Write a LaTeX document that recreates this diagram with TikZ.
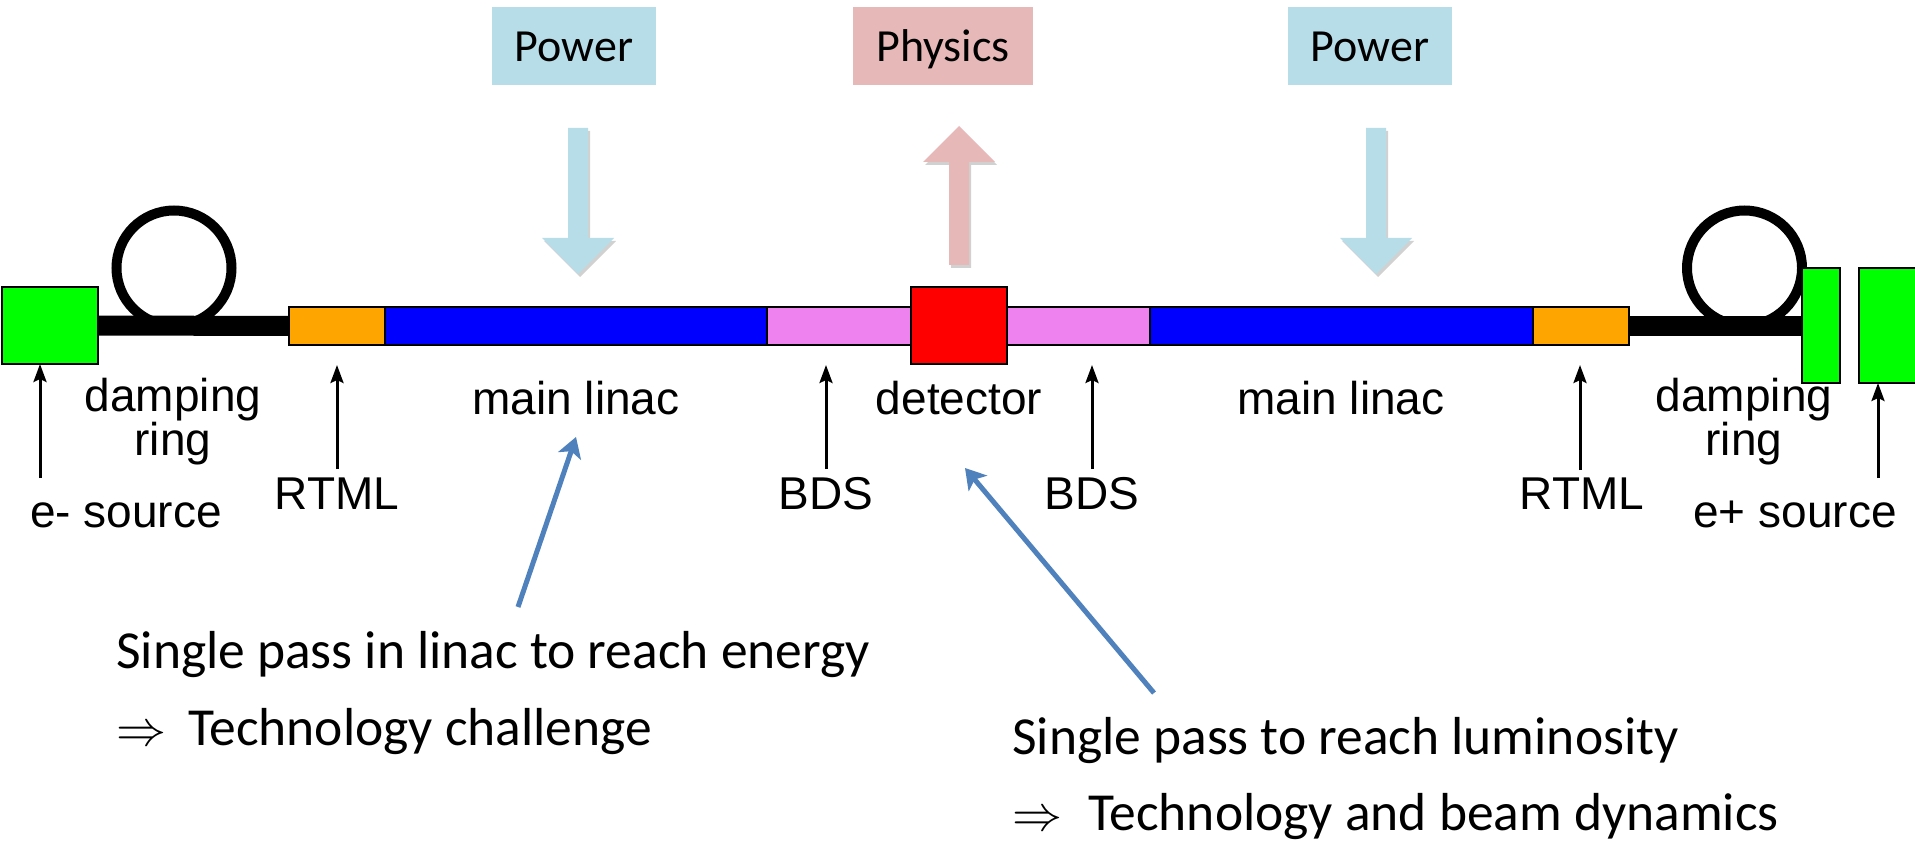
\documentclass[tikz,border=0pt]{standalone}
\usepackage{fontspec}
\setmainfont{Liberation Sans}
\newfontfamily\calib{Carlito}
\usetikzlibrary{arrows.meta,calc}
\definecolor{cgreen}{HTML}{00FF00}
\definecolor{corange}{HTML}{FFA500}
\definecolor{cblue}{HTML}{0000FF}
\definecolor{cpink}{HTML}{EE82EE}
\definecolor{cred}{HTML}{FF0000}
\definecolor{cpower}{HTML}{B7DDE8}
\definecolor{cphys}{HTML}{E6B9B8}
\definecolor{calblue}{HTML}{4F81BD}
\newcommand{\bigimplies}{\resizebox{50pt}{!}{$\Rightarrow$}}
\begin{document}
\begin{tikzpicture}[x=1pt,y=-1pt,
  seg/.style={draw=black,line width=1.5pt,inner sep=0pt,outer sep=0pt,minimum height=38pt},
  srcbox/.style={draw=black,line width=1.5pt,inner sep=0pt,outer sep=0pt,fill=cgreen},
  beamline/.style={line width=20pt},
  ringstyle/.style={circle,draw=black,line width=10pt,minimum size=115pt,inner sep=0pt},
  lbl/.style={font=\fontsize{46}{38}\selectfont,inner sep=0pt,anchor=base},
  lbltwo/.style={font=\fontsize{46}{38}\selectfont,inner sep=0pt,align=center},
  ptr/.style={line width=3pt,-{Stealth[length=18pt,width=13pt,inset=3pt]}},
  callout/.style={draw=calblue,line width=5pt,-{Stealth[length=20pt,width=24pt,inset=5pt]}},
  infobox/.style={inner sep=0pt,minimum height=78pt,text height=31pt,text depth=0pt,font=\calib\fontsize{46}{54}\selectfont},
  note/.style={anchor=base west,inner sep=0pt,font=\calib\fontsize{53.5}{62}\selectfont},
  shadowfill/.style={fill=black,opacity=0.18}
]
\useasboundingbox (0,0) rectangle (1915,842);
\fill[white] (0,0) rectangle (1915,842);

% top boxes
\node[infobox,fill=cpower,minimum width=164pt] (pwrL) at (574,46) {Power};
\node[infobox,fill=cphys,minimum width=180pt] (phys) at (943,46) {Physics};
\node[infobox,fill=cpower,minimum width=164pt] (pwrR) at (1370,46) {Power};

% block arrows
\coordinate (paL) at (578,128);
\coordinate (paR) at (1376,128);
\coordinate (phA) at (959,126);
\foreach \c/\col in {paL/cpower,paR/cpower}{
  \fill[shadowfill] ($(\c)+(2,3)$) ++(-10,0) -- ++(20,0) -- ++(0,110) -- ++(26,0) -- ++(-36,36) -- ++(-36,-36) -- ++(26,0) -- cycle;
  \fill[\col] (\c) ++(-10,0) -- ++(20,0) -- ++(0,110) -- ++(26,0) -- ++(-36,36) -- ++(-36,-36) -- ++(26,0) -- cycle;
}
\fill[shadowfill] ($(phA)+(2,3)$) -- ++(36,36) -- ++(-26,0) -- ++(0,103) -- ++(-20,0) -- ++(0,-103) -- ++(-26,0) -- cycle;
\fill[cphys] (phA) -- ++(36,36) -- ++(-26,0) -- ++(0,103) -- ++(-20,0) -- ++(0,-103) -- ++(-26,0) -- cycle;

% beam line segments
\node[seg,fill=corange,minimum width=96pt] (rtmlL) at (337,326) {};
\node[seg,fill=cblue,minimum width=382pt] (linL) at (576,326) {};
\node[seg,fill=cpink,minimum width=144pt] (bdsL) at (839,326) {};
\node[seg,fill=cpink,minimum width=143pt] (bdsR) at (1078.5,326) {};
\node[seg,fill=cblue,minimum width=383pt] (linR) at (1341.5,326) {};
\node[seg,fill=corange,minimum width=96pt] (rtmlR) at (1581,326) {};
\node[srcbox,fill=cred,minimum width=96pt,minimum height=77pt] (det) at (959,325.5) {};

% sources
\node[srcbox,minimum width=96pt,minimum height=77pt] (esrc) at (50,325.5) {};
\node[srcbox,minimum width=76pt,minimum height=115pt] (psrcB) at (1897,325.5) {};

% transfer lines and rings
\coordinate (psrcW) at (1802,326);
\draw[beamline] (esrc.east) -- (rtmlL.west);
\draw[beamline] (rtmlR.east) -- (psrcW);
\node[ringstyle] (drL) at (174,268) {};
\node[ringstyle] (drR) at (1744.5,268) {};
\node[srcbox,minimum width=38pt,minimum height=115pt] (psrcA) at (1821,325.5) {};

% labels
\node[lbl] (lEsrc) at (126,527) {e- source};
\node[lbltwo] (lDrL) at (173,422) {damping\\ring};
\node[lbl] (lRtmlL) at (337,509) {RTML};
\node[lbl] (lLinL) at (576,414) {main linac};
\node[lbl] (lBdsL) at (826,509) {BDS};
\node[lbl] (lDet) at (959,414) {detector};
\node[lbl] (lBdsR) at (1092,509) {BDS};
\node[lbl] (lLinR) at (1341,414) {main linac};
\node[lbl] (lRtmlR) at (1582,509) {RTML};
\node[lbltwo] (lDrR) at (1744,422) {damping\\ring};
\node[lbl] (lPsrc) at (1795,527) {e+ source};

% pointer arrows
\coordinate (t1) at (40,478);
\coordinate (t2) at (337,469);  \coordinate (h2) at (337,365);
\coordinate (t3) at (826,469);  \coordinate (h3) at (826,365);
\coordinate (t4) at (1092,469); \coordinate (h4) at (1092,365);
\coordinate (t5) at (1580,470); \coordinate (h5) at (1580,365);
\coordinate (t6) at (1878,478);
\draw[ptr] (t1) -- (t1 |- esrc.south);
\draw[ptr] (t2) -- (h2);
\draw[ptr] (t3) -- (h3);
\draw[ptr] (t4) -- (h4);
\draw[ptr] (t5) -- (h5);
\draw[ptr] (t6) -- (t6 |- psrcB.south);

% notes
\node[note] (n1) at (116,668) {Single pass in linac to reach energy};
\node[note] (n2) at (116,745) {\bigimplies\hspace{22pt}Technology challenge};
\node[note] (n3) at (1012,754) {Single pass to reach luminosity};
\node[note] (n4) at (1012,830) {\bigimplies\hspace{26pt}Technology and beam dynamics};

% callout arrows
\coordinate (c1t) at (518,607); \coordinate (c1h) at (576,437);
\coordinate (c2t) at (1154,693); \coordinate (c2h) at (965,468);
\draw[callout] (c1t) -- (c1h);
\draw[callout] (c2t) -- (c2h);
\end{tikzpicture}
\end{document}
